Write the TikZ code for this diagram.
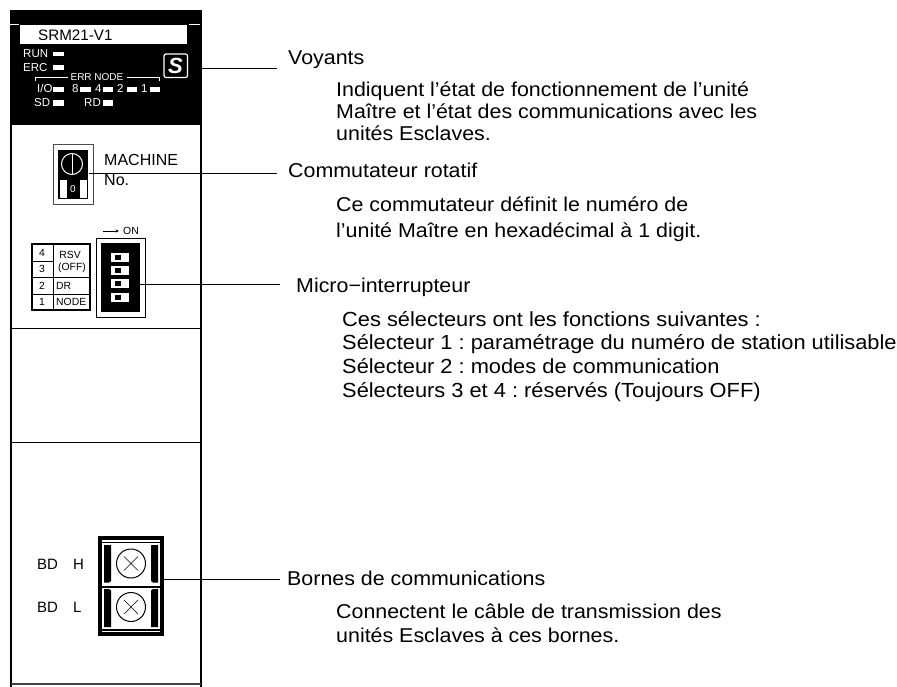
\documentclass[tikz,border=0pt]{standalone}
\usepackage{fontspec}
\usetikzlibrary{arrows.meta}
\setmainfont{Liberation Sans}
\newfontfamily\bodyfont[FakeStretch=1.07]{Liberation Sans}
\newcommand{\fz}[1]{\fontsize{#1}{#1}\selectfont}
\frenchspacing
\tikzset{x=1pt,y=-1pt,
 txt/.style={anchor=base west,inner sep=0pt,font=\bodyfont\fz{20}},
 txtm/.style={anchor=base west,inner sep=0pt,font=\bodyfont\fz{20.4}},
 wlab/.style={inner sep=0pt,text=white,font=\fz{11.5}},
 led/.style={fill=white,draw=none},
 ledb/.style={fill=black,draw=none},
 leader/.style={line width=1pt},
 panel/.style={line width=1.1pt},
 blab/.style={inner sep=0pt,anchor=base west,font=\fz{16}},
 tab/.style={inner sep=0pt,font=\fz{10.4}}}
\begin{document}
\begin{tikzpicture}
\useasboundingbox (0,0) rectangle (897,687);
% panel
\fill[black] (10,10) rectangle (202,125);
\fill[white] (20,25) rectangle (187,44.5);
\draw[white,line width=.8pt] (10,24) -- (19,24) (189,24) -- (200,24);
\draw[panel] (11,125) -- (11,687);
\draw[line width=1.6pt] (201,10) -- (201,687);
\draw[panel] (11,328.5) -- (201,328.5);
\draw[panel] (11,442.5) -- (201,442.5);
\draw[panel,draw=black!75] (11,684) -- (201,684);
% indicators
\node[inner sep=0pt,anchor=base west,font=\fz{15.2}] (title) at (38,41) {SRM21-V1};
\node[wlab,anchor=base west] (run) at (23,58) {RUN};
\node[wlab,anchor=base west] (erc) at (23,72) {ERC};
\fill[led] (53,52) rectangle (64,56.5);
\fill[led] (53,65) rectangle (64,70);
\draw[white,line width=.8pt] (35,81) -- (35,77.5) -- (68,77.5);
\draw[white,line width=.8pt] (127,77.5) -- (159,77.5) -- (159,81);
\node[wlab,font=\fz{10}] (err) at (97,77.5) {ERR NODE};
\node[wlab,anchor=base west] (io) at (37,93) {I/O};
\fill[led] (53,87) rectangle (64,92);
\node[wlab,anchor=base west] (n8) at (72,93) {8};
\fill[led] (80,87) rectangle (91,92);
\node[wlab,anchor=base west] (n4) at (95,93) {4};
\fill[led] (103,87) rectangle (113,92);
\node[wlab,anchor=base west] (n2) at (117,93) {2};
\fill[led] (127,87) rectangle (137,92);
\node[wlab,anchor=base west] (n1) at (141,93) {1};
\fill[led] (150,87) rectangle (160,92);
\node[wlab,anchor=base west] (sd) at (34,107) {SD};
\fill[led] (53,100) rectangle (64,106);
\node[wlab,anchor=base west] (rd) at (84,107) {RD};
\fill[led] (103,100) rectangle (113,106);
\draw[white,line width=1.2pt,rounded corners=2pt] (164,54) rectangle (187.5,77.5);
\node[inner sep=0pt,text=white,font=\fz{22}\bfseries\itshape] (logo) at (175.5,66) {S};
% rotary switch
\draw[line width=.8pt,draw=black!70] (53,144) rectangle (93,204);
\fill[black] (58,150) rectangle (88,199);
\draw[white,line width=1pt] (72,164) circle (10.5);
\draw[white,line width=1pt] (72,153.5) -- (72,174.5);
\fill[led] (60,180) rectangle (67,198);
\fill[led] (80,180) rectangle (87,198);
\node[wlab,font=\fz{10}] (zero) at (73,189) {0};
\node[blab] (mach) at (104,166) {MACHINE};
\node[blab] (no) at (104,186) {No.};
% dip table
\draw[line width=1.2pt] (32,244) rectangle (90,310);
\draw[line width=1pt] (53,244) -- (53,310);
\draw[line width=1pt] (32,261.5) -- (53,261.5) (32,277.5) -- (90,277.5) (32,294) -- (90,294);
\node[tab] (t4) at (42,253) {4};
\node[tab] (t3) at (42,269) {3};
\node[tab] (t2) at (42,286) {2};
\node[tab] (t1) at (42,302) {1};
\node[tab] (rsv) at (70,254.5) {RSV};
\node[tab] (off) at (72,268) {(OFF)};
\node[tab,anchor=west] (dr) at (56,286) {DR};
\node[tab,anchor=west] (node) at (56,302) {NODE};
% dip switch
\draw[-{Stealth[length=3.5pt,width=3pt]},line width=.6pt] (103,231) -- (119,231);
\node[tab,anchor=west] (on) at (123,231) {ON};
\draw[line width=.8pt] (96,238) rectangle (145,317);
\fill[black] (101,243) rectangle (140,312);
\foreach \yy in {253,266,279,293}{
 \fill[led] (111,\yy) rectangle (129,\yy+9);
 \fill[ledb] (115,\yy+2) rectangle (121,\yy+7);
}
% terminals
\fill[black] (98,536) rectangle (163.5,540);
\fill[black] (98,632) rectangle (163.5,636);
\fill[black] (98,536) rectangle (102,636);
\fill[black] (159.5,536) rectangle (163.5,636);
\fill[black] (102,541.5) rectangle (159.5,543);
\fill[black] (102,629) rectangle (159.5,630.5);
\fill[black] (104,545) -- (111,545) -- (111,581) -- (109,582.5) -- (104,582.5) -- cycle;
\fill[black] (151,545) -- (158,545) -- (158,582.5) -- (153,582.5) -- (151,581) -- cycle;
\fill[black] (104,589) -- (109,589) -- (111,590.5) -- (111,627) -- (104,627) -- cycle;
\fill[black] (153,589) -- (158,589) -- (158,627) -- (151,627) -- (151,590.5) -- cycle;
\fill[black] (98,585.5) rectangle (163.5,588);
\draw[line width=1pt] (131,563.5) circle (14.5);
\draw[line width=1pt] (131,607) circle (14.5);
\draw[line width=.5pt] (124,556.5) -- (138,570.5) (124,570.5) -- (138,556.5);
\draw[line width=.5pt] (124,600) -- (138,614) (124,614) -- (138,600);
\node[blab,font=\fz{15}] (bdh) at (37,569) {BD};
\node[blab,font=\fz{15}] (h) at (73,569) {H};
\node[blab,font=\fz{15}] (bdl) at (37,612) {BD};
\node[blab,font=\fz{15}] (l) at (73,612) {L};
% descriptive text
\node[txt] (voy) at (288,65) {Voyants};
\node[txt] (v1) at (336,97) {Indiquent l’état de fonctionnement de l’unité};
\node[txt] (v2) at (336,119) {Maître et l’état des communications avec les};
\node[txt] (v3) at (336,141) {unités Esclaves.};
\node[txt] (com) at (288,178) {Commutateur rotatif};
\node[txt] (c1) at (336,212) {Ce commutateur définit le numéro de};
\node[txt] (c2) at (336,237) {l’unité Maître en hexadécimal à 1 digit.};
\node[txt] (mic) at (296,292) {Micro−interrupteur};
\node[txtm] (m1) at (342,326) {Ces sélecteurs ont les fonctions suivantes :};
\node[txtm] (m2) at (342,349) {Sélecteur 1 : paramétrage du numéro de station utilisable};
\node[txtm] (m3) at (342,373) {Sélecteur 2 : modes de communication};
\node[txtm] (m4) at (342,397) {Sélecteurs 3 et 4 : réservés (Toujours OFF)};
\node[txt] (bor) at (287,585) {Bornes de communications};
\node[txt] (b1) at (336,618) {Connectent le câble de transmission des};
\node[txt] (b2) at (336,642) {unités Esclaves à ces bornes.};
% leaders
\coordinate (a1) at (202,68.5);
\coordinate (a2) at (89,173.5);
\coordinate (a3) at (140,284);
\coordinate (a4) at (164,579);
\coordinate (e1) at (277,68.5);
\coordinate (e2) at (277,173.5);
\coordinate (e3) at (280,284);
\coordinate (e4) at (280,579);
\draw[leader] (a1) -- (e1);
\draw[leader] (a2) -- (e2);
\draw[leader] (a3) -- (e3);
\draw[leader] (a4) -- (e4);
\end{tikzpicture}
\end{document}
